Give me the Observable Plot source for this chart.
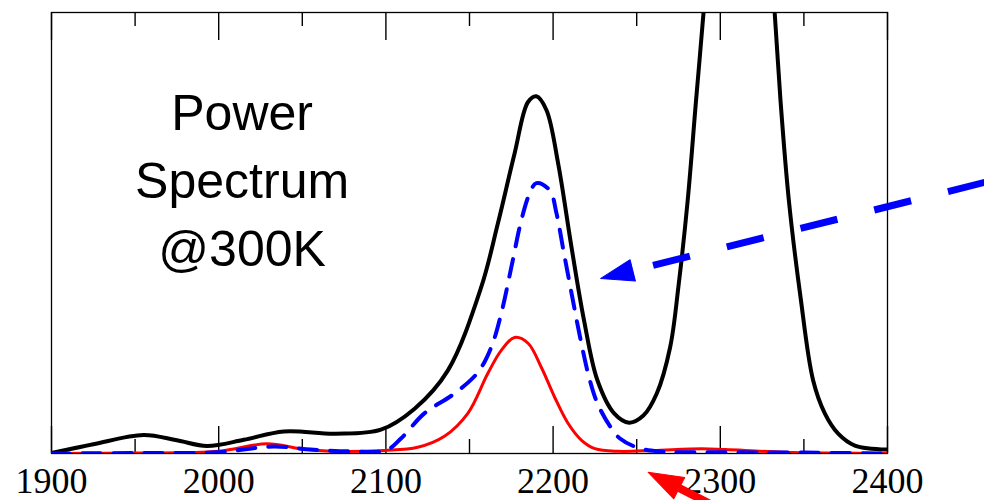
<!DOCTYPE html>
<html><head><meta charset="utf-8">
<script src="https://cdn.jsdelivr.net/npm/d3@7"></script>
<script src="https://cdn.jsdelivr.net/npm/@observablehq/plot@0.6"></script>
<style>html,body{margin:0;padding:0;background:#fff}#wrap{position:relative;width:984px;height:500px}#wrap svg{display:block;position:absolute;left:0;top:0}</style>
</head><body><div id="wrap"></div>
<script>
// Wavenumber axis ticks
const majorTicks = [1900, 2000, 2100, 2200, 2300, 2400];
const minorTicks = [1950, 2050, 2150, 2250, 2350];

// Total power spectrum (black)
const blackX = [1900,1925,1955,1975,1993,2015,2039,2070,2097,2117,2137,2157,2167,2177,2185,2190,2196,2203,2211,2218.5,2226.5,2236.5,2245.5,2254,2262,2270,2275,2280.5,2285.5,2290,2295,2300,2305,2311,2317,2322,2327,2332.5,2336,2341,2348,2355.5,2362.5,2370.5,2380.5,2400];
const blackY = [0.1,2.1,4.2,3.0,1.7,3.1,5.0,4.5,5.4,10.1,18.8,37.7,52.2,68.1,79.7,81.0,77.9,65.8,46.8,30.2,16.6,9.1,7.0,8.6,13.6,24.1,38.0,57.4,80.1,100.1,125.5,146.9,161.9,168.9,161.9,146.9,125.5,100.1,80.1,57.4,35.4,16.6,9.1,4.5,1.8,0.9];

// Blue dashed component
const blueX = [1900,1950,2000,2033,2055,2079,2100,2109,2123,2141,2155,2163,2169,2175,2181,2186,2190,2198,2202,2206.5,2211.5,2216.5,2221.5,2226.5,2234.5,2240,2250,2263,2300,2350,2400];
const blueY = [0,0.1,0.3,1.6,0.9,0.5,0.7,3.4,9.1,13.6,18.4,24.1,31.8,42.2,52.9,59.0,61.3,59.7,54.5,45.4,35.4,25.7,17.3,11.4,5.9,3.4,1.4,0.5,0.3,0.2,0];

// Red component
const redX = [1900,1950,2000,2029,2049,2069,2099,2119,2135,2149,2161,2169,2177,2185,2193,2201,2209,2217,2225,2239,2260,2289,2303,2338,2370,2400];
const redY = [0,0.1,0.5,2.2,1.1,0.5,0.7,1.4,3.9,9.1,18.2,23.4,26.3,25.0,19.5,12.7,6.8,3.0,1.1,0.5,0.7,1.1,0.9,0.3,0.1,0];

const annotation = "Power\nSpectrum\n@300K";

// Arrows (data coordinates): tail, head base, tip, direction
const blueArrow = {x1: 2458.2, y1: 61.5, x2: 2247.7, y2: 41.5, tx: 2228.5, ty: 39.7, rotate: 256};
const redArrow = {x1: 2312.3, y1: -15.0, x2: 2275.5, y2: -7.85, tx: 2256.8, ty: -4.25, rotate: 297};

const toRows = (xs, ys) => xs.map((x, i) => ({x, y: ys[i]}));
const black = toRows(blackX, blackY);
const blue = toRows(blueX, blueY);
const red = toRows(redX, redY);

const W = 984, H = 500, mT = 12, mB = 47;
const frameH = H - mT - mB;
const u = px => px * 100 / frameH;
const bottomTicks = [
  ...majorTicks.map(v => ({v, b: u(27)})),
  ...minorTicks.map(v => ({v, b: u(14)}))
];
const topTicks = [
  ...majorTicks.map(v => ({v, t: 100 - u(28)})),
  ...minorTicks.map(v => ({v, t: 100 - u(14)}))
];

const headShape = (hw) => ({draw(ctx, l) { ctx.moveTo(0, -l); ctx.lineTo(-hw, 0); ctx.lineTo(hw, 0); ctx.closePath(); }});

const dims = {width: W, height: H, marginLeft: 51, marginRight: 97, marginTop: mT, marginBottom: mB};

// Layer 1 (bottom, white): frame, bottom ticks, tick labels
const axes = Plot.plot({
  ...dims,
  x: {domain: [1900, 2400]},
  y: {domain: [0, 100], axis: null},
  marks: [
    Plot.frame({stroke: "black", strokeWidth: 1.3}),
    Plot.ruleX(bottomTicks, {x: "v", y1: 0, y2: "b", stroke: "black", strokeWidth: 1.4}),
    Plot.axisX({ticks: majorTicks, tickSize: 0, tickPadding: 14, tickFormat: "d", fontSize: 36, fontFamily: "Liberation Serif", fill: "black", label: null})
  ]
});

// Layer 2 (transparent): curves, annotation, arrows
const curves = Plot.plot({
  ...dims,
  style: {background: "transparent"},
  x: {domain: [1900, 2400], axis: null},
  y: {domain: [0, 100], axis: null},
  marks: [
    Plot.line(black, {x: "x", y: "y", curve: "catmull-rom", stroke: "black", strokeWidth: 4, clip: true}),
    Plot.line(red, {x: "x", y: "y", curve: "catmull-rom", stroke: "#ff0000", strokeWidth: 3, clip: true}),
    Plot.line(blue, {x: "x", y: "y", curve: "catmull-rom", stroke: "#0000ff", strokeWidth: 4, strokeDasharray: "18,13", clip: true}),
    Plot.text([annotation], {x: 2014, y: 84.4, text: d => d, lineAnchor: "top", lineHeight: 1.36, textAnchor: "middle", fontSize: 50, fontFamily: "Liberation Sans", fill: "black"}),
    Plot.link([blueArrow], {x1: "x1", y1: "y1", x2: "x2", y2: "y2", stroke: "#0000ff", strokeWidth: 7, strokeDasharray: "38,38"}),
    Plot.vector([blueArrow], {x: "tx", y: "ty", rotate: "rotate", length: 33, anchor: "end", shape: headShape(11), fill: "#0000ff", stroke: "#0000ff", strokeWidth: 1}),
    Plot.link([redArrow], {x1: "x1", y1: "y1", x2: "x2", y2: "y2", stroke: "#ff0000", strokeWidth: 8}),
    Plot.vector([redArrow], {x: "tx", y: "ty", rotate: "rotate", length: 35, anchor: "end", shape: headShape(12), fill: "#ff0000", stroke: "#ff0000", strokeWidth: 1})
  ]
});

// Layer 3 (transparent): top inward ticks
const topLayer = Plot.plot({
  ...dims,
  style: {background: "transparent"},
  x: {domain: [1900, 2400], axis: null},
  y: {domain: [0, 100], axis: null},
  marks: [
    Plot.ruleX(topTicks, {x: "v", y1: 100, y2: "t", stroke: "black", strokeWidth: 1.4})
  ]
});

const wrap = document.getElementById("wrap");
wrap.appendChild(axes);
wrap.appendChild(curves);
wrap.appendChild(topLayer);
</script>
</body></html>
